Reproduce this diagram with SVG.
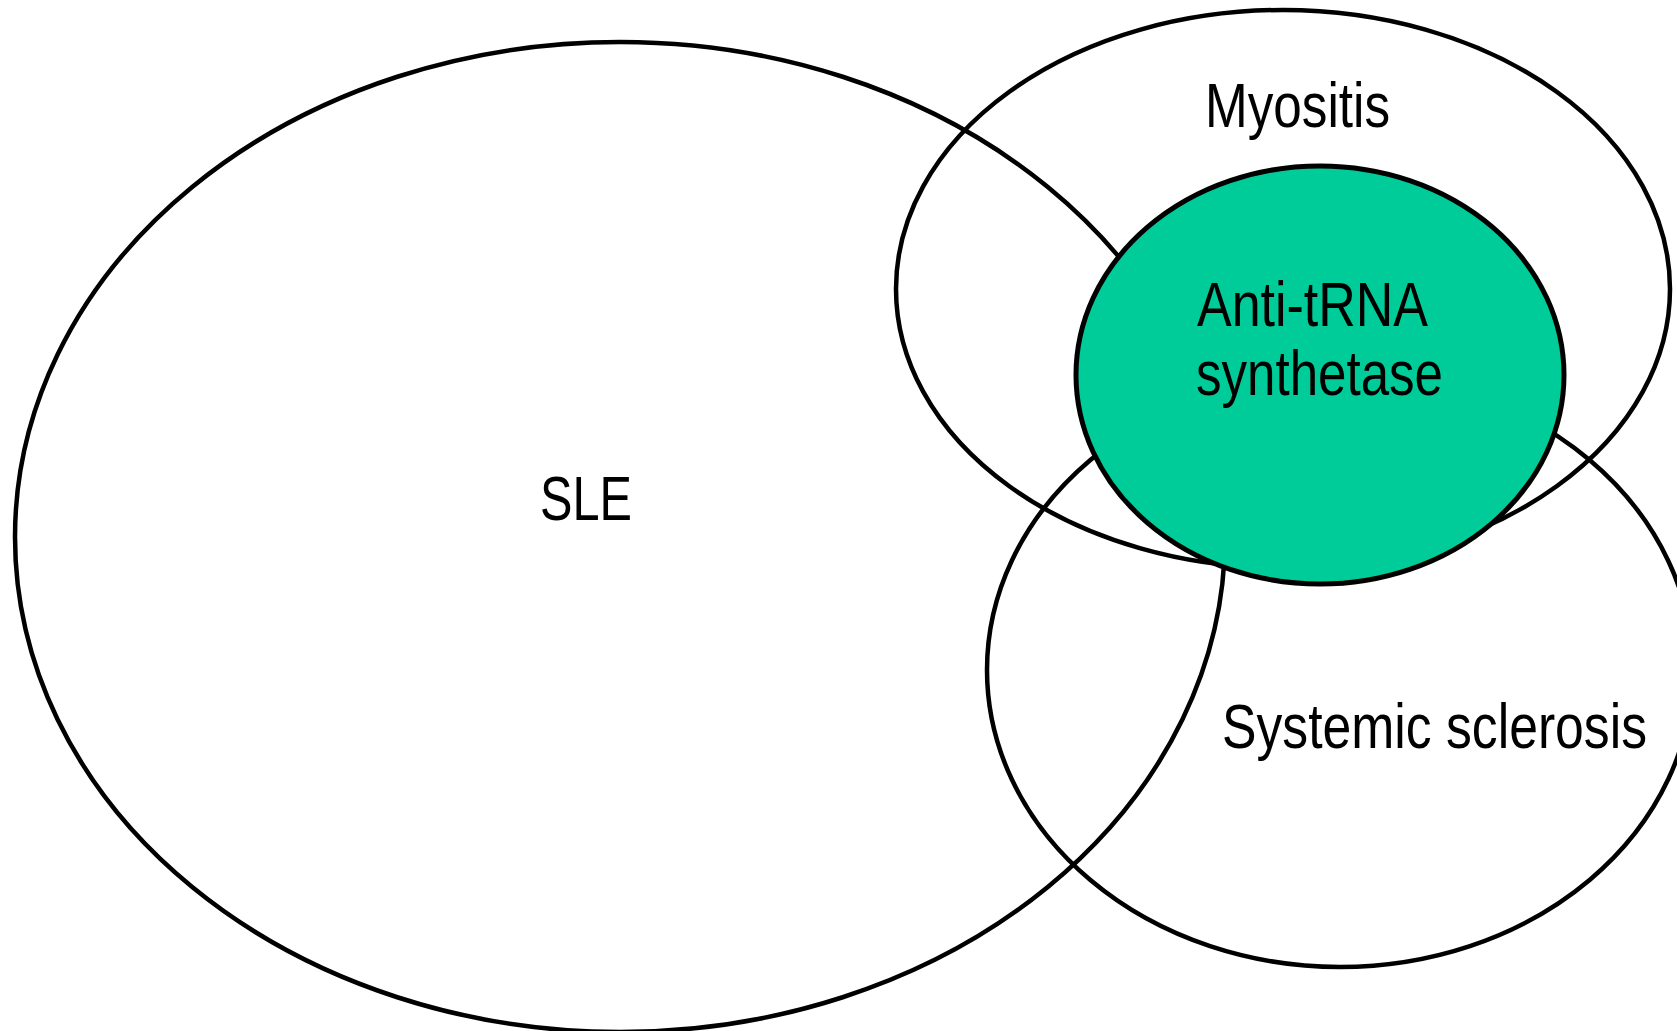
<svg xmlns="http://www.w3.org/2000/svg" width="1677" height="1031" viewBox="0 0 1677 1031">
<style>
.set{fill:none;stroke:#000;stroke-width:4.5}
.core{fill:#00CC99;stroke:#000;stroke-width:5}
.lbl{font-family:"Liberation Sans Narrow","Liberation Sans",Arial,sans-serif;font-size:63px;fill:#000}
</style>
<rect width="1677" height="1031" fill="#fff"/>
<g id="sle"><ellipse class="set" cx="620" cy="537" rx="605" ry="495"/><text class="lbl" x="540" y="520" textLength="92" lengthAdjust="spacingAndGlyphs">SLE</text></g>
<g id="myositis"><ellipse class="set" cx="1283" cy="289" rx="387" ry="279"/><text class="lbl" x="1205" y="127" textLength="185" lengthAdjust="spacingAndGlyphs">Myositis</text></g>
<g id="systemic-sclerosis"><ellipse class="set" cx="1340" cy="670" rx="353" ry="297"/><text class="lbl" x="1222" y="748" textLength="425" lengthAdjust="spacingAndGlyphs">Systemic sclerosis</text></g>
<g id="anti-trna"><ellipse class="core" cx="1320" cy="375" rx="244" ry="209"/><text class="lbl" x="1197" y="326" textLength="231" lengthAdjust="spacingAndGlyphs">Anti-tRNA</text><text class="lbl" x="1196" y="395" textLength="247" lengthAdjust="spacingAndGlyphs">synthetase</text></g>
<g id="connectors"/>
</svg>
